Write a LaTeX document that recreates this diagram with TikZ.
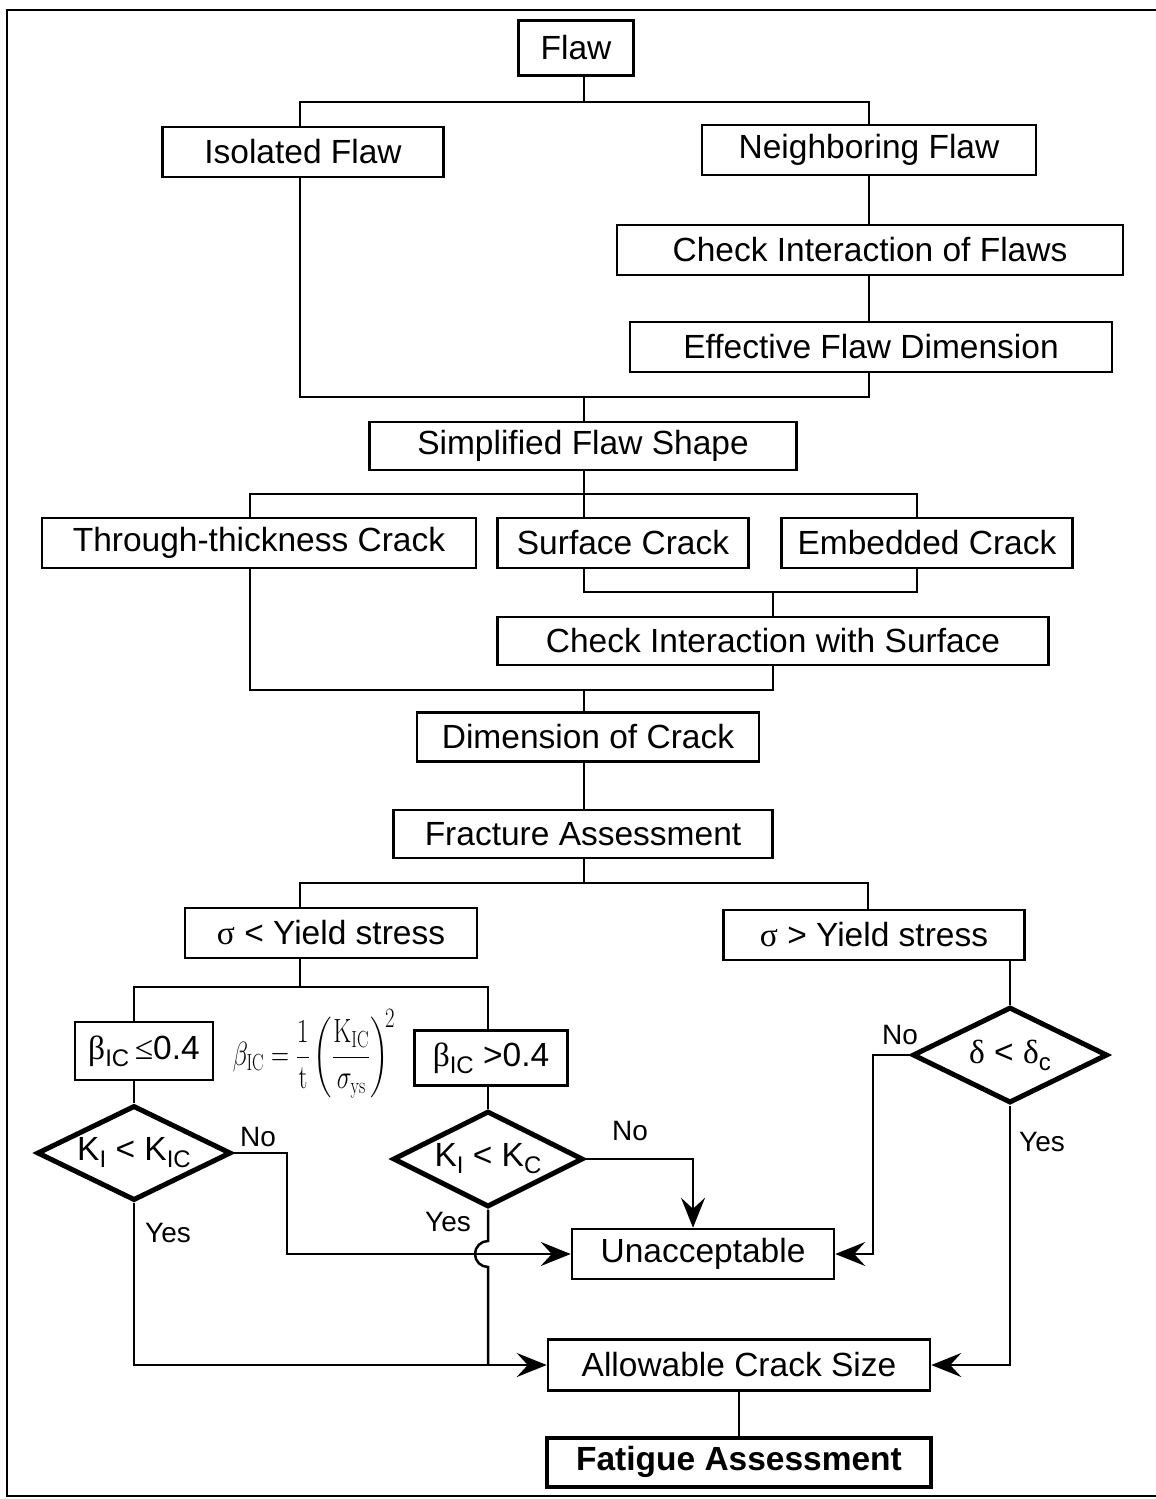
\documentclass[tikz,border=0pt]{standalone}
\usepackage[no-math]{fontspec}
\usepackage{amsmath}
\setmainfont{Liberation Sans}
\newfontfamily\grk{Liberation Serif}
\usetikzlibrary{shapes.geometric}
\usetikzlibrary{positioning}
\usetikzlibrary{arrows.meta}
\newcommand\lowidx[1]{\raisebox{-0.4ex}{\fontsize{24}{26}\selectfont #1}}
\tikzset{
    box/.style = {rectangle, draw=black, line width=2.5pt, inner sep=0pt, minimum height=50pt, font=\fontsize{33.5}{38}\selectfont},
    boxb/.style = {box, line width=4pt, font=\fontsize{33.5}{38}\selectfont\bfseries},
    test/.style = {diamond, draw=black, line width=5pt, inner sep=0pt, font=\fontsize{33.5}{38}\selectfont},
    tag/.style = {inner sep=0pt, font=\fontsize{28}{32}\selectfont},
    formula/.style = {inner sep=0pt, yscale=1.35, font=\fontsize{24.88}{30}\selectfont},
    edgen/.style = {line width=2.5pt},
    edgea/.style = {-{Stealth[length=30pt,width=24pt,inset=11pt]},line width=2.5pt},
}

\begin{document}
\begin{tikzpicture}[x=1pt,y=-1pt]
\useasboundingbox (0,0) rectangle (1156,1499);
\draw[line width=2pt] (1156,10) -- (7,10) -- (7,1496) -- (1156,1496);
%
\node[box, minimum width=115pt, minimum height=55pt] at (576,48) (flaw) {Flaw};
\node[box, minimum width=281pt] at (303,152) (iso) {Isolated Flaw};
\node[box, minimum width=334pt] at (869,150) (nbr) {Neighboring Flaw};
\node[box, minimum width=506pt] at (870,250) (chk) {Check Interaction of Flaws};
\node[box, minimum width=482pt] at (871,347) (eff) {Effective Flaw Dimension};
\node[box, minimum width=427pt, minimum height=48pt] at (583,446) (simp) {Simplified Flaw Shape};
\node[box, minimum width=434pt] at (259,543) (thru) {Through-thickness Crack};
\node[box, minimum width=251pt] at (623,543) (surf) {Surface Crack};
\node[box, minimum width=291pt] at (927,543) (emb) {Embedded Crack};
\node[box, minimum width=551pt, minimum height=48pt] at (773,641) (chks) {Check Interaction with Surface};
\node[box, minimum width=342pt, minimum height=49pt] at (588,737) (dim) {Dimension of Crack};
\node[box, minimum width=379pt, minimum height=48pt] at (583,834) (frac) {Fracture Assessment};
\node[box, minimum width=292pt] at (331,933) (lo) {{\grk σ} < Yield stress};
\node[box, minimum width=301pt] at (874,935) (hi) {{\grk σ} > Yield stress};
\node[box, minimum width=138pt, minimum height=58pt] at (144,1051) (blo) {{\grk β}\lowidx{IC}\,{\grk ≤}0.4};
\node[box, minimum width=153pt, minimum height=55pt] at (491,1058) (bhi) {{\grk β}\lowidx{IC} >0.4};
\node[formula] at (314,1054) (beta) {$\beta_{\scriptscriptstyle\mathrm{IC}} = \dfrac{1}{\mathrm{t}}\left(\dfrac{\mathrm{K}_{\scriptscriptstyle\mathrm{IC}}}{\sigma_{\scriptscriptstyle\mathrm{ys}}}\right)^{\!2}$};
\node[test, minimum width=194pt, minimum height=95pt] at (134,1153) (dl) {\makebox[0pt]{K\lowidx{I} < K\lowidx{IC}}};
\node[test, minimum width=190pt, minimum height=96pt] at (488,1159) (dr) {\makebox[0pt]{K\lowidx{I} < K\lowidx{C}}};
\node[test, minimum width=195pt, minimum height=96pt] at (1010,1055) (dd) {\makebox[0pt]{{\grk δ} < {\grk δ}\lowidx{c}}};
\node[box, minimum width=262pt] at (703,1254) (unacc) {Unacceptable};
\node[box, minimum width=382pt, minimum height=51pt] at (739,1365) (allow) {Allowable Crack Size};
\node[boxb, minimum width=384pt, minimum height=49pt] at (739,1462) (fat) {Fatigue Assessment};
\node[tag] at (258,1137) (no1) {No};
\node[tag] at (168,1233) (yes1) {Yes};
\node[tag] at (630,1131) (no2) {No};
\node[tag] at (448,1222) (yes2) {Yes};
\node[tag] at (900,1035) (no3) {No};
\node[tag] at (1042,1142) (yes3) {Yes};
%
\coordinate (j1) at (584,102);
\coordinate (j1l) at (300,102);
\coordinate (j1r) at (869,102);
\coordinate (j2) at (584,397);
\coordinate (j2l) at (300,397);
\coordinate (j2r) at (869,397);
\coordinate (j3l) at (250,494);
\coordinate (j3r) at (917,494);
\coordinate (j4) at (773,592);
\coordinate (j5) at (584,690);
\coordinate (j5l) at (250,690);
\coordinate (j5r) at (773,690);
\coordinate (j6) at (584,883);
\coordinate (j6r) at (868,883);
\coordinate (j7) at (300,987);
\coordinate (n1) at (287,1254);
\coordinate (n2) at (693,1159);
\coordinate (n3) at (873,1055);
\coordinate (hp) at (488,1241);
%
\draw[edgen] (flaw.south -| j1) -- (j1);
\draw[edgen] (iso.north -| j1l) -- (j1l) -- (j1r) -- (nbr.north -| j1r);
\draw[edgen] (nbr.south -| j1r) -- (chk.north -| j1r);
\draw[edgen] (chk.south -| j1r) -- (eff.north -| j1r);
\draw[edgen] (iso.south -| j2l) -- (j2l) -- (j2r) -- (eff.south -| j2r);
\draw[edgen] (j2) -- (simp.north -| j2);
\draw[edgen] (simp.south -| j2) -- (surf.north -| j2);
\draw[edgen] (thru.north -| j3l) -- (j3l) -- (j3r) -- (emb.north -| j3r);
\draw[edgen] (surf.south -| j2) |- (j4) -| (emb.south -| j3r);
\draw[edgen] (j4) -- (chks.north -| j4);
\draw[edgen] (thru.south -| j5l) -- (j5l) -- (j5r) -- (chks.south -| j5r);
\draw[edgen] (j5) -- (dim.north -| j5);
\draw[edgen] (dim.south -| j5) -- (frac.north -| j5);
\draw[edgen] (frac.south -| j6) -- (j6);
\draw[edgen] (lo.north -| j7) |- (j6r) -- (hi.north -| j6r);
\draw[edgen] (lo.south -| j7) -- (j7);
\draw[edgen] (blo.north -| dl) |- (j7) -| (bhi.north -| dr);
\draw[edgen] (blo.south -| dl) -- (dl);
\draw[edgen] (bhi.south -| dr) -- (dr);
\draw[edgen] (hi.south -| dd) -- (dd);
\draw[edgea] (dl.east) -| (n1) -- (unacc.west);
\draw[edgea] (dr.east) -- (n2) -- (unacc.north -| n2);
\draw[edgea] (dd.west) -- (n3) |- (unacc.east);
\draw[edgen] (dr) -- (hp) arc[start angle=90, end angle=270, radius=13pt] -- (dr |- allow);
\draw[edgea] (dl.south) |- (allow.west);
\draw[edgea] (dd.south) |- (allow.east);
\draw[edgen] (allow) -- (fat);
\end{tikzpicture}
\end{document}
